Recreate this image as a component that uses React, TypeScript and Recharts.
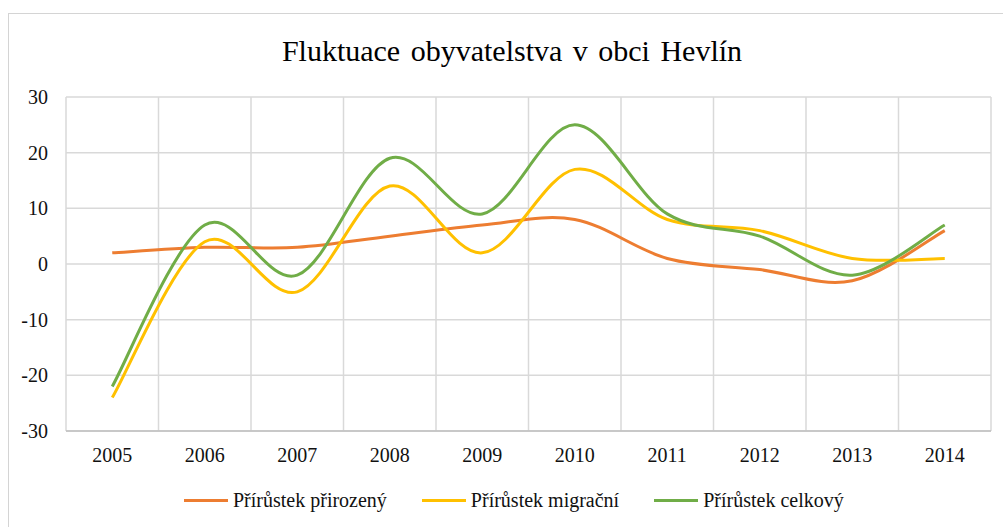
import { LineChart, Line, XAxis, YAxis, CartesianGrid } from "recharts";

const years = ["2005", "2006", "2007", "2008", "2009", "2010", "2011", "2012", "2013", "2014"];
const natural = [2, 3, 3, 5, 7, 8, 1, -1, -3, 6];
const migration = [-24, 4, -5, 14, 2, 17, 8, 6, 1, 1];
const total = [-22, 7, -2, 19, 9, 25, 9, 5, -2, 7];
const yTicks = [-30, -20, -10, 0, 10, 20, 30];

const series = [
  { key: "natural", name: "Přírůstek přirozený", color: "#ED7D31" },
  { key: "migration", name: "Přírůstek migrační", color: "#FFC000" },
  { key: "total", name: "Přírůstek celkový", color: "#70AD47" },
];

const data = years.map((year, i) => ({
  year,
  natural: natural[i],
  migration: migration[i],
  total: total[i],
}));

const FONT = '"Liberation Serif", "Times New Roman", serif';

// Excel-style smoothing (Catmull-Rom through the points)
const excelSmooth = (context: any) => {
  let pts: number[][] = [];
  return {
    areaStart() {},
    areaEnd() {},
    lineStart() {
      pts = [];
    },
    point(x: number, y: number) {
      pts.push([+x, +y]);
    },
    lineEnd() {
      const n = pts.length;
      if (!n) return;
      context.moveTo(pts[0][0], pts[0][1]);
      for (let i = 0; i < n - 1; i++) {
        const p0 = pts[Math.max(i - 1, 0)];
        const p1 = pts[i];
        const p2 = pts[i + 1];
        const p3 = pts[Math.min(i + 2, n - 1)];
        context.bezierCurveTo(
          p1[0] + (p2[0] - p0[0]) / 6,
          p1[1] + (p2[1] - p0[1]) / 6,
          p2[0] - (p3[0] - p1[0]) / 6,
          p2[1] - (p3[1] - p1[1]) / 6,
          p2[0],
          p2[1]
        );
      }
    },
  };
};

const XTick = ({ x, y, payload }: any) => (
  <text x={x} y={y} dy="0.71em" textAnchor="middle" fill="#111" style={{ fontFamily: FONT, fontSize: 20 }}>
    {payload.value}
  </text>
);

const YTick = ({ x, y, payload }: any) => (
  <text x={x} y={y} dy="0.355em" textAnchor="end" fill="#111" style={{ fontFamily: FONT, fontSize: 20 }}>
    {payload.value}
  </text>
);

export default function App() {
  return (
    <div
      style={{
        position: "absolute",
        left: 8,
        top: 13,
        width: 994,
        height: 513,
        borderTop: "1px solid #d4d4d4",
        borderLeft: "1px solid #d4d4d4",
        background: "#fff",
        fontFamily: FONT,
        overflow: "hidden",
      }}
    >
      <div
        style={{
          position: "absolute",
          left: 0,
          top: 22,
          width: 1006,
          textAlign: "center",
          fontSize: 30,
          lineHeight: "30px",
          wordSpacing: 3,
          whiteSpace: "nowrap",
          color: "#000",
        }}
      >
        Fluktuace obyvatelstva v obci Hevlín
      </div>
      <LineChart
        width={994}
        height={513}
        data={data}
        margin={{ top: 83, right: 12, left: 0, bottom: 56 }}
        style={{ position: "absolute", left: 0, top: 0, fontFamily: FONT }}
      >
        <CartesianGrid
          stroke="#D9D9D9"
          strokeWidth={1.5}
          verticalCoordinatesGenerator={({ offset }: any) =>
            Array.from({ length: years.length + 1 }, (_, i) => offset.left + (i * offset.width) / years.length)
          }
        />
        <XAxis
          dataKey="year"
          scale="band"
          height={40}
          tickLine={false}
          tickSize={0}
          tickMargin={17}
          axisLine={{ stroke: "#BFBFBF", strokeWidth: 1.5 }}
          tick={<XTick />}
          interval={0}
        />
        <YAxis
          domain={[-30, 30]}
          ticks={yTicks}
          width={57}
          tickLine={false}
          tickSize={0}
          tickMargin={18}
          axisLine={false}
          tick={<YTick />}
        />
        {series.map((s) => (
          <Line
            key={s.key}
            dataKey={s.key}
            name={s.name}
            type={excelSmooth as any}
            stroke={s.color}
            strokeWidth={3}
            dot={false}
            activeDot={false}
            isAnimationActive={false}
          />
        ))}
      </LineChart>
      <div
        style={{
          position: "absolute",
          left: 175,
          top: 476,
          display: "flex",
          alignItems: "center",
          fontSize: 20,
          lineHeight: "20px",
          whiteSpace: "nowrap",
          color: "#111",
        }}
      >
        {series.map((s) => (
          <div key={s.key} style={{ display: "flex", alignItems: "center", marginRight: 35 }}>
            <span style={{ display: "inline-block", width: 44, height: 3, background: s.color, marginRight: 5 }} />
            <span>{s.name}</span>
          </div>
        ))}
      </div>
    </div>
  );
}
